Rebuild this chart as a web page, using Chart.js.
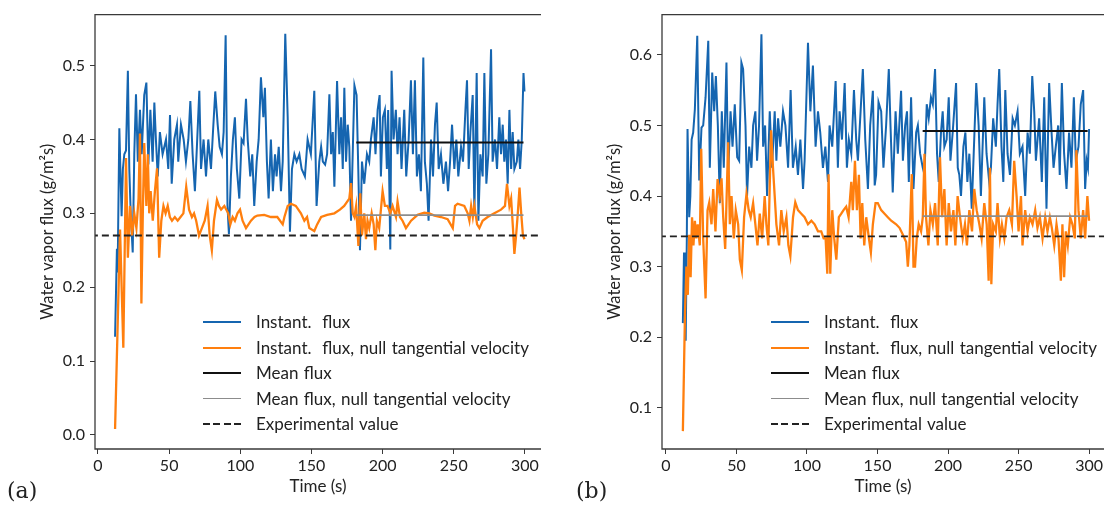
<!DOCTYPE html>
<html>
<head>
<meta charset="utf-8">
<script src="https://cdn.jsdelivr.net/npm/chart.js@4.4.1/dist/chart.umd.min.js"></script>
<style>
    html, body { margin: 0; padding: 0; background: #fff; }
    body { width: 1105px; height: 505px; position: relative; overflow: hidden; font-family: "Lato", sans-serif; color: #222; }
    .panel { position: absolute; top: 0; height: 505px; }
    .tag { position: absolute; top: 478px; font-family: "DejaVu Serif", serif; font-size: 22px; color: #222; }
    .legend { position: absolute; top: 309px; font-size: 17px; line-height: 25.5px; word-spacing: 1px; }
    .row { position: relative; height: 25.5px; white-space: pre; }
    .row span.line { position: absolute; left: 0; top: 12px; width: 38px; }
    .row span.txt { position: absolute; left: 53px; top: 0; }
</style>
</head>
<body>
<div class="panel" style="left:0; width:541px;"><canvas id="chartA"></canvas></div>
<div class="panel" style="left:560px; width:545px;"><canvas id="chartB"></canvas></div>

<div class="tag" style="left:7px;">(a)</div>
<div class="tag" style="left:576px;">(b)</div>

<div class="legend" id="legendA" style="left:203px;"></div>
<div class="legend" id="legendB" style="left:771px;"></div>

<script>
// ---- data ----
const xTicks = [0, 50, 100, 150, 200, 250, 300];
const aYTicks = [0.0, 0.1, 0.2, 0.3, 0.4, 0.5];
const bYTicks = [0.1, 0.2, 0.3, 0.4, 0.5, 0.6];

const seriesNames = [
    "Instant.  flux",
    "Instant.  flux, null tangential velocity",
    "Mean flux",
    "Mean flux, null tangential velocity",
    "Experimental value"
];

// panel (a)
const aInstT = [12, 13.3, 13.8, 15, 16.6, 17.5, 18.5, 19.7, 21, 22, 23, 24.4, 25.5, 26.7, 28, 29.5, 30.7, 32.5, 34, 35.4,
    36.8, 38.4, 39.6, 40.7, 42, 43.5, 45.4, 47.8, 49.4, 50.6, 51.8, 53.6, 55.5, 56.4, 58.3, 60.2, 61.8, 63.5, 64.9, 66.5,
    68.1, 69.5, 71.2, 72.4, 74.2, 75.9, 77.5, 79.4, 80.8, 82.4, 84.1, 85.5, 87.1, 88.3, 89.7, 91, 92, 93.4, 94.8, 96.2,
    97.6, 99.3, 100.9, 102.3, 104, 105.2, 107, 108.4, 109.8, 111.5, 112.9, 114.5, 116.2, 117.3, 118.7, 119.9, 121.5, 122.9, 124.4, 125.5,
    127, 128.6, 129.8, 131.6, 133.3, 134.9, 136.3, 138, 139.6, 141.5, 143.1, 145.4, 147.3, 149.6, 152, 153.6, 155.5, 156.8, 158, 159.6,
    161, 162.6, 163.8, 165, 166.1, 168, 169.6, 170.8, 172, 173.1, 174.3, 175.5, 176.6, 177.8, 180.2, 181.7, 182.9, 184.1, 185.5, 187.1,
    189, 190.6, 191.8, 193.7, 195, 196.5, 197.9, 198.8, 200.2, 201.6, 203, 203.9, 205.4, 206.3, 207.7, 209.3, 210.5, 211.9, 213.3, 215.2,
    216.6, 218.3, 219.9, 221.3, 222.7, 224.1, 225.5, 226.9, 228.6, 229.7, 231.1, 232.3, 234, 235.4, 236.8, 238, 239.4, 241, 242.7, 244.5,
    246, 247.4, 248.8, 250.4, 251.8, 253.2, 255.1, 256.5, 258.2, 259.3, 260.5, 261.7, 263.3, 264.5, 266.1, 267.3, 268.7, 270.3, 271.5, 272.9,
    274.3, 276.2, 277.3, 279, 280.4, 282, 283.2, 284.4, 285.5, 286.7, 287.9, 289.1, 290.3, 291.4, 292.6, 294.3, 295.4, 296.6, 297.8, 299, 299.7];
const aInstV = [0.133, 0.252, 0.22, 0.415, 0.296, 0.36, 0.38, 0.385, 0.493, 0.36, 0.30, 0.247, 0.38, 0.461, 0.37, 0.44, 0.38, 0.46, 0.477, 0.366,
    0.44, 0.37, 0.45, 0.40, 0.35, 0.41, 0.38, 0.40, 0.36, 0.433, 0.34, 0.40, 0.42, 0.37, 0.42, 0.40, 0.37, 0.40, 0.452, 0.38,
    0.33, 0.39, 0.466, 0.36, 0.40, 0.35, 0.40, 0.36, 0.41, 0.465, 0.42, 0.39, 0.38, 0.41, 0.541, 0.31, 0.272, 0.35, 0.40, 0.43,
    0.36, 0.32, 0.40, 0.395, 0.455, 0.40, 0.35, 0.38, 0.31, 0.37, 0.40, 0.484, 0.43, 0.47, 0.37, 0.32, 0.40, 0.33, 0.38, 0.35,
    0.39, 0.33, 0.37, 0.543, 0.43, 0.275, 0.36, 0.38, 0.37, 0.38, 0.36, 0.35, 0.40, 0.38, 0.466, 0.31, 0.37, 0.39, 0.37, 0.366,
    0.38, 0.461, 0.38, 0.41, 0.336, 0.479, 0.38, 0.43, 0.36, 0.47, 0.37, 0.42, 0.39, 0.29, 0.473, 0.46, 0.36, 0.25, 0.37, 0.34,
    0.38, 0.37, 0.40, 0.43, 0.38, 0.44, 0.46, 0.35, 0.43, 0.44, 0.36, 0.44, 0.251, 0.493, 0.40, 0.44, 0.38, 0.43, 0.36, 0.44,
    0.35, 0.40, 0.48, 0.38, 0.48, 0.35, 0.38, 0.33, 0.511, 0.37, 0.34, 0.29, 0.40, 0.35, 0.42, 0.45, 0.36, 0.38, 0.34, 0.37,
    0.33, 0.37, 0.42, 0.36, 0.40, 0.35, 0.39, 0.37, 0.44, 0.48, 0.36, 0.41, 0.46, 0.30, 0.49, 0.29, 0.38, 0.35, 0.49, 0.34,
    0.38, 0.522, 0.37, 0.40, 0.36, 0.43, 0.38, 0.42, 0.37, 0.40, 0.34, 0.44, 0.36, 0.41, 0.36, 0.37, 0.40, 0.36, 0.40, 0.49, 0.465];

const aNullT = [12, 15.5, 17.8, 19.7, 21, 22.5, 24, 25.5, 27, 28.5, 29.5, 30.5, 31.5, 32.5, 34, 35, 36, 37, 38.5, 40,
    41.5, 43, 44.5, 46, 47.5, 49, 50.5, 52, 54, 56, 58, 60, 62, 64, 66, 67.5, 69, 71, 73, 75,
    77, 78.5, 80, 81.5, 83.6, 85, 86.5, 88.8, 91.5, 93, 94.6, 96.2, 98, 99.8, 101.6, 104, 107.5, 110, 112, 116.8,
    121.5, 126, 129.8, 131, 133.3, 135.6, 139, 142.6, 145, 146.9, 148.5, 150.2, 152, 154, 156.8, 161, 166.1, 170, 173, 176.6,
    177.8, 179, 180.2, 181.4, 183, 184.3, 185.5, 187.1, 188.3, 189.4, 190.6, 192.3, 193.7, 194.9, 196, 197.6, 200, 201.6, 203.5, 205.4,
    207, 209.4, 210.5, 212.2, 214, 216.4, 220, 224.6, 229.3, 232.8, 236.4, 241, 245.7, 249.3, 250.9, 252.7, 257.4, 259.8, 261, 262.2,
    263.4, 264.5, 266.4, 268, 270.3, 273.8, 278.5, 283.2, 286, 287.4, 289.1, 290.3, 291.6, 292.6, 293.8, 295, 296.2, 297.4, 298.6, 299.7];
const aNullV = [0.008, 0.278, 0.118, 0.375, 0.24, 0.31, 0.27, 0.30, 0.28, 0.32, 0.408, 0.178, 0.30, 0.395, 0.31, 0.38, 0.30, 0.33, 0.29, 0.33,
    0.361, 0.24, 0.29, 0.31, 0.30, 0.31, 0.295, 0.29, 0.295, 0.29, 0.295, 0.30, 0.336, 0.305, 0.295, 0.30, 0.29, 0.27, 0.28, 0.29,
    0.31, 0.27, 0.25, 0.29, 0.318, 0.31, 0.305, 0.31, 0.30, 0.285, 0.295, 0.29, 0.30, 0.305, 0.29, 0.28, 0.29, 0.295, 0.297, 0.298,
    0.295, 0.295, 0.285, 0.295, 0.31, 0.313, 0.31, 0.30, 0.29, 0.295, 0.28, 0.278, 0.276, 0.285, 0.295, 0.298, 0.300, 0.305, 0.31, 0.32,
    0.341, 0.30, 0.295, 0.31, 0.256, 0.327, 0.27, 0.30, 0.265, 0.29, 0.28, 0.30, 0.285, 0.25, 0.29, 0.28, 0.33, 0.31, 0.31, 0.30,
    0.31, 0.295, 0.316, 0.295, 0.29, 0.28, 0.29, 0.298, 0.301, 0.30, 0.297, 0.295, 0.292, 0.28, 0.31, 0.313, 0.31, 0.30, 0.29, 0.31,
    0.295, 0.31, 0.285, 0.28, 0.29, 0.295, 0.30, 0.305, 0.31, 0.34, 0.31, 0.32, 0.28, 0.245, 0.27, 0.30, 0.335, 0.30, 0.27, 0.265];

const aMeanT = [181.5, 299];
const aMean = [0.396, 0.396];
const aMeanNull = [0.2975, 0.2975];
const aExpT = [-5, 320];
const aExp = [0.27, 0.27];

// panel (b)
const bInstT = [12, 12.8, 13.5, 14, 14.8, 15.3, 16.5, 17.3, 18.2, 19.3, 20.5, 22.2, 23.6, 25.2, 26.4, 28.1, 30, 31.1, 32.8, 34.2,
    35.4, 36.8, 38.2, 39.6, 41, 42.9, 44.1, 45.8, 47.2, 48.8, 50.5, 51.9, 53.5, 54.7, 56.4, 57.5, 59, 60.6, 61.8, 63.4,
    64.6, 66, 67.7, 68.9, 70.3, 71.7, 73.6, 75.2, 77.1, 78.3, 79.5, 81.1, 83, 84.7, 86.6, 88.4, 90, 92, 93.6, 95.3,
    97.2, 98.3, 100.7, 102.4, 104.2, 106.1, 107.8, 109.4, 111.3, 113, 114.9, 116, 117.9, 120.3, 121.9, 123.1, 124.8, 126.7, 128.3, 129.7,
    131.4, 133.3, 134.9, 136.1, 138, 139.6, 141.3, 143.2, 144.8, 146.7, 148, 149, 150.7, 152.6, 154.2, 156.1, 158, 159.2, 160.8, 162.8,
    164.4, 166.7, 168, 169.6, 170.9, 172.2, 173.8, 175.5, 177.4, 178.6, 180.2, 182.1, 183.3, 184.9, 186.3, 187.9, 189.2, 190.8, 192.2, 193.4,
    195, 196.2, 197.4, 199, 200.5, 201.7, 203.3, 205.7, 206.9, 208, 209.2, 210.9, 212.3, 213.7, 215.1, 216.8, 218.2, 220, 221.7, 223.3,
    225.7, 227.3, 229.2, 230.4, 232, 233.9, 235.1, 236.3, 237.9, 239.2, 240.6, 242.2, 243.9, 245.8, 247.4, 249.3, 250.9, 252.8, 254.7, 256.4,
    258, 259.7, 261.1, 262.3, 264.6, 266.5, 268.2, 269.8, 271.7, 273.4, 274.8, 276.4, 278.1, 279.2, 280.7, 282.3, 284, 285.8, 287.5, 289.2,
    290.6, 292.5, 294.1, 295.8, 297.2, 298.3, 299.2, 300];
const bInstV = [0.22, 0.32, 0.25, 0.195, 0.34, 0.495, 0.37, 0.40, 0.48, 0.49, 0.523, 0.627, 0.422, 0.497, 0.50, 0.54, 0.62, 0.44, 0.575, 0.52,
    0.57, 0.50, 0.39, 0.52, 0.44, 0.589, 0.43, 0.52, 0.47, 0.53, 0.455, 0.45, 0.589, 0.58, 0.50, 0.40, 0.47, 0.44, 0.50, 0.52,
    0.45, 0.50, 0.629, 0.47, 0.50, 0.40, 0.52, 0.44, 0.52, 0.45, 0.51, 0.47, 0.52, 0.50, 0.44, 0.55, 0.44, 0.47, 0.43, 0.48,
    0.41, 0.45, 0.617, 0.52, 0.585, 0.47, 0.52, 0.49, 0.44, 0.47, 0.42, 0.50, 0.47, 0.563, 0.44, 0.52, 0.48, 0.56, 0.44, 0.48,
    0.46, 0.55, 0.48, 0.45, 0.52, 0.58, 0.48, 0.41, 0.50, 0.549, 0.415, 0.43, 0.533, 0.52, 0.44, 0.50, 0.58, 0.50, 0.405, 0.52,
    0.46, 0.549, 0.45, 0.50, 0.52, 0.42, 0.54, 0.41, 0.49, 0.50, 0.46, 0.44, 0.43, 0.53, 0.51, 0.54, 0.53, 0.58, 0.46, 0.42,
    0.49, 0.52, 0.47, 0.48, 0.54, 0.45, 0.49, 0.56, 0.44, 0.43, 0.40, 0.47, 0.49, 0.42, 0.46, 0.382, 0.46, 0.56, 0.50, 0.40,
    0.54, 0.46, 0.42, 0.44, 0.51, 0.47, 0.53, 0.58, 0.47, 0.42, 0.55, 0.46, 0.43, 0.51, 0.50, 0.52, 0.46, 0.47, 0.40, 0.49,
    0.46, 0.57, 0.52, 0.45, 0.51, 0.42, 0.54, 0.382, 0.56, 0.49, 0.44, 0.47, 0.50, 0.43, 0.56, 0.46, 0.41, 0.49, 0.44, 0.54,
    0.45, 0.47, 0.53, 0.55, 0.41, 0.45, 0.44, 0.495];

const bNullT = [12, 13.5, 14.5, 15.5, 16.5, 17.5, 18.5, 19.5, 20.5, 21.5, 22.5, 24, 25, 26.4, 28.1, 29.5, 30.7, 32.3, 33.5, 35.1,
    36.6, 38.2, 39.4, 40.6, 42, 44.1, 45.3, 46.5, 48.1, 49.5, 51.2, 52.4, 53.8, 55.4, 57.1, 58.7, 60.1, 61.8, 63.4, 64.9,
    66.5, 68.2, 70, 71.2, 72.6, 74.5, 75.9, 77.1, 78.3, 80.2, 81.8, 83.5, 85.4, 86.8, 88.2, 90.1, 91.7, 93.6, 96, 98.3,
    100.7, 103.1, 105.4, 107.8, 110.1, 111.8, 113.2, 114.4, 115.3, 116.5, 117.9, 119.3, 120.8, 122.6, 124.3, 125.9, 127.8, 129.5, 131.4, 132.5,
    134, 135.4, 136.8, 138, 139.2, 140.6, 142, 143.9, 145.3, 146.7, 148.6, 150.2, 152.6, 155, 157.3, 159.7, 163.2, 165.6, 168, 170.3,
    171.5, 172.6, 174.3, 175.5, 176.6, 177.8, 179.2, 180.9, 182.1, 183.3, 184.4, 186.1, 187.5, 189.2, 190.8, 192.7, 194.3, 195.8, 197.4, 199,
    200.5, 202.1, 203.8, 205.2, 206.8, 208.5, 210.4, 212, 213.4, 215.1, 217, 218.6, 220.3, 222.2, 223.8, 225.7, 227.4, 228.8, 229.7, 230.7,
    232, 233.9, 235.1, 236.8, 238.2, 239.9, 241.5, 243.4, 245.3, 246.9, 248.6, 250, 251.7, 252.8, 254.7, 256.4, 258, 259.9, 261.8, 263.4,
    265.1, 267, 268.9, 270.5, 272.2, 273.6, 275.3, 276.9, 278.3, 280, 281.1, 282.3, 283.5, 284.9, 286.6, 288.2, 289.9, 291, 292.5, 294.1,
    295.8, 297.2, 298.8, 300];
const bNullV = [0.067, 0.235, 0.30, 0.26, 0.345, 0.285, 0.37, 0.33, 0.365, 0.34, 0.36, 0.33, 0.467, 0.34, 0.255, 0.38, 0.391, 0.36, 0.41, 0.35,
    0.424, 0.40, 0.425, 0.37, 0.325, 0.476, 0.36, 0.40, 0.34, 0.38, 0.36, 0.31, 0.295, 0.37, 0.403, 0.38, 0.37, 0.39, 0.36, 0.33,
    0.375, 0.34, 0.40, 0.36, 0.33, 0.493, 0.44, 0.40, 0.36, 0.33, 0.38, 0.35, 0.37, 0.33, 0.315, 0.37, 0.391, 0.38, 0.375, 0.37,
    0.36, 0.365, 0.36, 0.35, 0.35, 0.34, 0.34, 0.29, 0.431, 0.29, 0.38, 0.34, 0.31, 0.37, 0.375, 0.38, 0.385, 0.37, 0.42, 0.38,
    0.45, 0.38, 0.43, 0.34, 0.39, 0.33, 0.37, 0.34, 0.32, 0.36, 0.39, 0.39, 0.38, 0.375, 0.37, 0.365, 0.36, 0.355, 0.345, 0.335,
    0.30, 0.33, 0.431, 0.30, 0.30, 0.34, 0.36, 0.35, 0.37, 0.46, 0.37, 0.33, 0.38, 0.36, 0.39, 0.33, 0.455, 0.37, 0.41, 0.33,
    0.39, 0.35, 0.38, 0.33, 0.40, 0.37, 0.34, 0.36, 0.33, 0.38, 0.35, 0.41, 0.38, 0.36, 0.34, 0.39, 0.36, 0.28, 0.44, 0.275,
    0.36, 0.35, 0.39, 0.34, 0.36, 0.34, 0.37, 0.38, 0.36, 0.45, 0.40, 0.35, 0.40, 0.33, 0.38, 0.35, 0.37, 0.36, 0.38, 0.355,
    0.37, 0.34, 0.37, 0.35, 0.37, 0.355, 0.33, 0.36, 0.34, 0.28, 0.36, 0.285, 0.35, 0.33, 0.37, 0.36, 0.34, 0.465, 0.38, 0.34,
    0.38, 0.34, 0.40, 0.365];

const bMeanT = [182, 299];
const bMean = [0.492, 0.492];
const bMeanNull = [0.3715, 0.3715];
const bExpT = [-5, 320];
const bExp = [0.343, 0.343];

// ---- styles ----
const colors = ["#1565b0", "#ff7f0e", "#111111", "#8c8c8c", "#222222"];
const widths = [2, 2.3, 2, 1.8, 1.8];
const dashes = [[], [], [], [], [7, 4]];

Chart.defaults.font.family = "Lato, 'Open Sans', sans-serif";
Chart.defaults.color = "#222";

function points(xs, ys) {
    return xs.map((x, i) => ({ x: x, y: ys[i] }));
}

// frame: left, top and bottom spines (figure is cropped on the right)
const framePlugin = {
    id: "frame",
    afterDatasetsDraw(chart) {
        const { ctx, chartArea } = chart;
        ctx.save();
        ctx.strokeStyle = "#3a3a3a";
        ctx.lineWidth = 1.3;
        ctx.beginPath();
        ctx.moveTo(chartArea.right, chartArea.top);
        ctx.lineTo(chartArea.left, chartArea.top);
        ctx.lineTo(chartArea.left, chartArea.bottom);
        ctx.lineTo(chartArea.right, chartArea.bottom);
        ctx.stroke();
        ctx.restore();
    }
};

function makePanel(canvasId, p) {
    const sets = [
        points(p.instT, p.inst),
        points(p.nullT, p.nullV),
        points(p.meanT, p.mean),
        points(p.meanT, p.meanNull),
        points(p.expT, p.exp)
    ];

    const datasets = sets.map((data, i) => ({
        label: seriesNames[i],
        data: data,
        borderColor: colors[i],
        borderWidth: widths[i],
        borderDash: dashes[i],
        pointRadius: 0,
        tension: 0,
        fill: false,
        order: 5 - i
    }));

    return new Chart(document.getElementById(canvasId), {
        type: "line",
        data: { datasets: datasets },
        plugins: [framePlugin],
        options: {
            animation: false,
            responsive: true,
            maintainAspectRatio: false,
            layout: { padding: { top: 12, right: 0, bottom: 0, left: 0 } },
            plugins: {
                legend: { display: false },
                tooltip: { enabled: false }
            },
            scales: {
                x: {
                    type: "linear",
                    min: p.xMin,
                    max: p.xMax,
                    afterBuildTicks: (s) => { s.ticks = xTicks.map(v => ({ value: v })); },
                    afterFit: (s) => { s.height = 56; },
                    border: { display: false },
                    grid: { drawOnChartArea: false, drawTicks: true, tickLength: 5, color: "#3a3a3a" },
                    ticks: { font: { size: 16 }, padding: 2, maxRotation: 0, callback: v => String(v) },
                    title: { display: true, text: "Time (s)", font: { size: 17 }, padding: { top: 0, bottom: 8 } }
                },
                y: {
                    type: "linear",
                    min: p.yMin,
                    max: p.yMax,
                    afterBuildTicks: (s) => { s.ticks = p.yTicks.map(v => ({ value: v })); },
                    afterFit: (s) => { s.width = p.yWidth; },
                    border: { display: false },
                    grid: { drawOnChartArea: false, drawTicks: true, tickLength: 5, color: "#3a3a3a" },
                    ticks: { font: { size: 16 }, padding: 5, callback: v => v.toFixed(1) },
                    title: { display: true, text: "Water vapor flux (g/m\u00b2s)", font: { size: 16.5 }, padding: { top: p.titlePad, bottom: 0 } }
                }
            }
        }
    });
}

function makeLegend(id) {
    const box = document.getElementById(id);
    seriesNames.forEach((name, i) => {
        const row = document.createElement("div");
        row.className = "row";
        const line = document.createElement("span");
        line.className = "line";
        line.style.height = widths[i] + "px";
        if (dashes[i].length) {
            line.style.background = "repeating-linear-gradient(to right, " + colors[i] + " 0 7px, transparent 7px 10.5px)";
        } else {
            line.style.background = colors[i];
        }
        const txt = document.createElement("span");
        txt.className = "txt";
        txt.textContent = name;
        row.appendChild(line);
        row.appendChild(txt);
        box.appendChild(row);
    });
}

makePanel("chartA", {
    instT: aInstT, inst: aInstV, nullT: aNullT, nullV: aNullV,
    meanT: aMeanT, mean: aMean, meanNull: aMeanNull, expT: aExpT, exp: aExp,
    xMin: -2.1, xMax: 311.3, yMin: -0.019, yMax: 0.569, yTicks: aYTicks, yWidth: 95, titlePad: 38
});

makePanel("chartB", {
    instT: bInstT, inst: bInstV, nullT: bNullT, nullV: bNullV,
    meanT: bMeanT, mean: bMean, meanNull: bMeanNull, expT: bExpT, exp: bExp,
    xMin: -2.8, xMax: 310.6, yMin: 0.0417, yMax: 0.657, yTicks: bYTicks, yWidth: 102, titlePad: 45
});

makeLegend("legendA");
makeLegend("legendB");
</script>
</body>
</html>
